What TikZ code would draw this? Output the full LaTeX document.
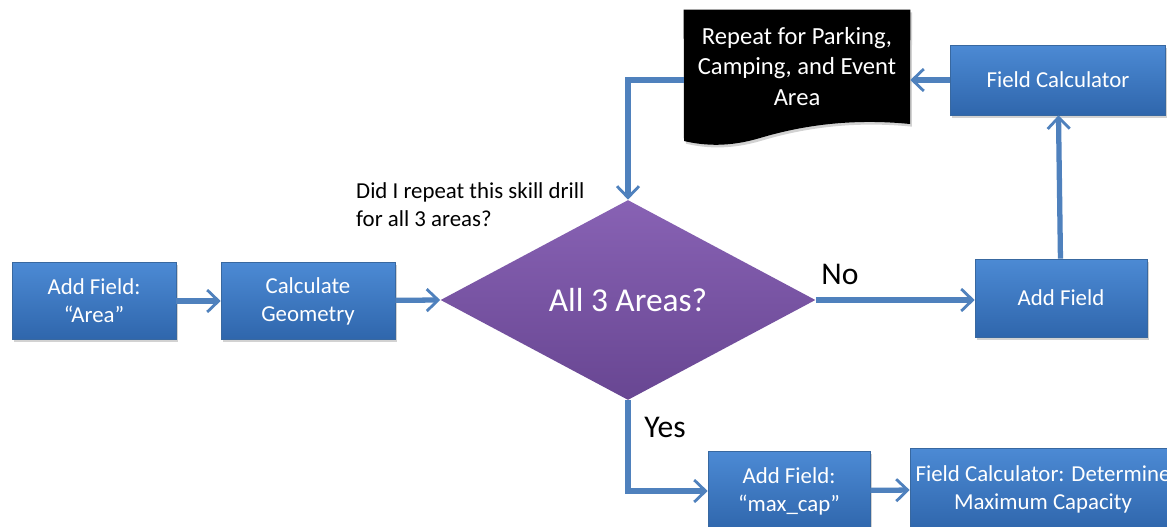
\documentclass[tikz,border=0pt]{standalone}
\usepackage{fontspec}
\setmainfont{Carlito}
\usetikzlibrary{shapes.geometric,arrows.meta,shadows,backgrounds}

\definecolor{boxtop}{RGB}{76,138,212}
\definecolor{boxbot}{RGB}{47,102,172}
\definecolor{boxline}{RGB}{56,104,160}
\definecolor{dectop}{RGB}{136,98,180}
\definecolor{decbot}{RGB}{104,70,146}
\definecolor{arrowblue}{RGB}{79,129,189}

\tikzset{
  procbox/.style={rectangle, draw=boxline, line width=0.4pt, top color=boxtop, bottom color=boxbot,
    text=white, align=center, inner sep=2pt, minimum height=1.54cm,
    font=\fontsize{13}{16}\selectfont,
    drop shadow={shadow xshift=1pt, shadow yshift=-1.5pt, opacity=0.35}},
  decision/.style={diamond, top color=dectop, bottom color=decbot, text=white,
    minimum width=7.5cm, minimum height=4cm, inner sep=0pt,
    font=\fontsize{19}{22}\selectfont},
  flowarrow/.style={draw=arrowblue, line width=3pt,
    -{Straight Barb[length=6.5pt, width=12.5pt, line width=1.6pt]}},
  yesno/.style={font=\fontsize{18}{20}\selectfont}
}

\begin{document}
\begin{tikzpicture}[x=0.02cm, y=-0.02cm]
    \clip (0,0) rectangle (1167,527);

    % left branch
    \node[procbox, minimum width=3.28cm] (addarea) at (94,301) {Add Field:\\``Area''};
    \node[procbox, minimum width=3.48cm] (calcgeo) at (308,301) {Calculate\\Geometry};
    \node[decision] (dec) at (628,300) {All 3 Areas?};
    \node[anchor=north west, align=left, font=\fontsize{13}{16}\selectfont] (ask) at (350,176)
        {Did I repeat this skill drill\\for all 3 areas?};

    % no branch
    \node[procbox, minimum width=3.44cm, minimum height=1.56cm] (addfield) at (1061,298) {Add Field};
    \node[procbox, minimum width=4.3cm, minimum height=1.4cm] (fieldcalc) at (1058,80) {Field Calculator};
    \node[text=white, align=center, minimum width=4.52cm, minimum height=2.26cm,
          font=\fontsize{14}{17.4}\selectfont] (repeat) at (797,66.5)
        {Repeat for Parking,\\Camping, and Event\\Area};
    \begin{scope}[on background layer]
      \fill[white] (0,0) rectangle (1167,527);
      \fill[black, drop shadow={shadow xshift=1pt, shadow yshift=-1.5pt, opacity=0.35}]
        (repeat.north west) -- (repeat.north east) -- (910,124)
        .. controls (850,118) and (800,126) .. (760,138)
        .. controls (730,147) and (705,146) .. (684,141) -- cycle;
    \end{scope}

    % yes branch
    \node[procbox, minimum width=3.24cm, minimum height=1.58cm] (maxcap) at (789,491) {Add Field:\\``max\_cap''};
    \node[procbox, minimum width=5.32cm, minimum height=1.64cm] (determine) at (1043,489)
        {Field Calculator: Determine\\Maximum Capacity};

    \node[yesno] (nolbl) at (840,274) {No};
    \node[yesno] (yeslbl) at (665,427) {Yes};

    % connectors
    \draw[flowarrow] (addarea) -- (calcgeo);
    \draw[flowarrow] (calcgeo) -- (dec.west);
    \draw[flowarrow] (dec.east) -- (addfield.west |- dec.east);
    \draw[flowarrow] (addfield) -- (fieldcalc);
    \draw[flowarrow] (fieldcalc.west) -- (fieldcalc.west -| repeat.east);
    \draw[flowarrow] (repeat.west |- fieldcalc.west) -| (dec.north);
    \draw[flowarrow] (dec.south) |- (maxcap.west);
    \draw[flowarrow] (maxcap) -- (determine);
\end{tikzpicture}
\end{document}
